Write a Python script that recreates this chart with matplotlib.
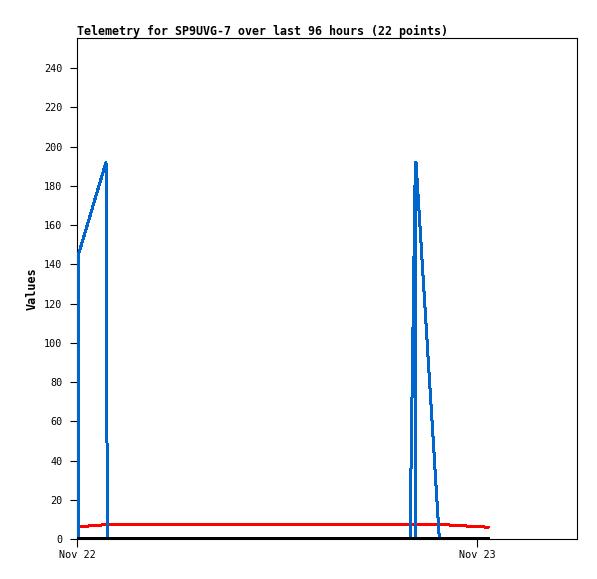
import matplotlib
matplotlib.use("Agg")
import matplotlib.pyplot as plt

# hours since Nov 22 00:00
blue_t = [0.06, 0.09, 1.74, 1.80, 1.86, 5.0, 10.0, 15.0, 19.98, 20.30, 20.32, 20.34, 21.74, 24.66]
blue_v = [0, 145, 192, 49, 0, 0, 0, 0, 0, 192, 0, 192, 0, 0]

red_t = [0.06, 1.74, 22.0, 24.66]
red_v = [6.2, 7.3, 7.3, 6.0]

black_t = [0.06, 24.66]
black_v = [0, 0]

xtick_pos = [0, 24]
xtick_labels = ["Nov 22", "Nov 23"]
ytick_vals = list(range(0, 241, 20))

title = "Telemetry for SP9UVG-7 over last 96 hours (22 points)"

fig = plt.figure(figsize=(5.97, 5.79), dpi=100)
ax = fig.add_axes([77 / 597, 1 - 539 / 579, 500 / 597, 501 / 579])

ax.plot(red_t, red_v, color="#ff0000", lw=1.44, antialiased=False, zorder=2)
ax.plot(blue_t, blue_v, color="#0066cc", lw=1.44, antialiased=False, zorder=3)
ax.plot(black_t, black_v, color="#000000", lw=1.6, antialiased=False, zorder=4)

ax.set_xlim(0, 30)
ax.set_ylim(0, 255.3)
ax.set_xticks(xtick_pos)
ax.set_xticklabels(xtick_labels, fontfamily="DejaVu Sans Mono", fontsize=7.3)
ax.set_yticks(ytick_vals)
ax.set_yticklabels([str(v) for v in ytick_vals], fontfamily="DejaVu Sans Mono", fontsize=7.3)
ax.tick_params(axis="y", direction="out", length=5, width=0.8, pad=5.5)
ax.tick_params(axis="x", direction="out", length=6, width=0.8, pad=2)
for s in ax.spines.values():
    s.set_linewidth(0.8)
    s.set_color("black")

ax.set_title(title, loc="left", fontfamily="DejaVu Sans Mono", fontweight="bold",
             fontsize=8.35, pad=2)
ax.set_ylabel("Values", fontfamily="DejaVu Sans Mono", fontweight="bold", fontsize=8.5,
              labelpad=4)

fig.savefig("out.png", dpi=100)
